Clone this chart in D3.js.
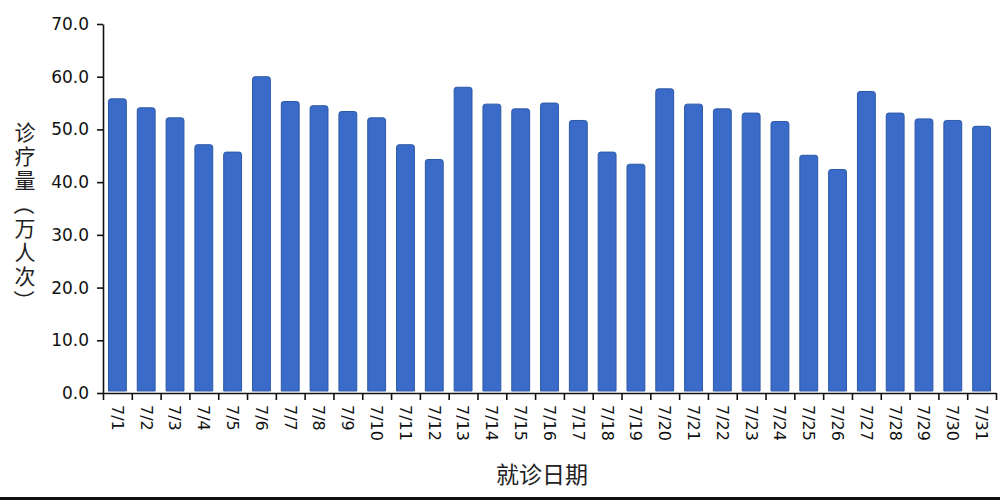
<!DOCTYPE html>
<html>
<head>
<meta charset="utf-8">
<script src="https://cdn.jsdelivr.net/npm/d3@7"></script>
<style>
  body { margin: 0; background: #fff; }
  svg { display: block; }
</style>
</head>
<body>
<div id="app"></div>
<script>
// data
const dates = ["7/1", "7/2", "7/3", "7/4", "7/5", "7/6", "7/7", "7/8", "7/9", "7/10",
    "7/11", "7/12", "7/13", "7/14", "7/15", "7/16", "7/17", "7/18", "7/19", "7/20",
    "7/21", "7/22", "7/23", "7/24", "7/25", "7/26", "7/27", "7/28", "7/29", "7/30", "7/31"];
const visits = [55.8, 54.1, 52.2, 47.1, 45.7, 60.0, 55.3, 54.5, 53.4, 52.2,
    47.1, 44.3, 58.0, 54.8, 53.9, 55.0, 51.7, 45.7, 43.4, 57.7,
    54.8, 53.9, 53.1, 51.5, 45.1, 42.4, 57.2, 53.1, 52.0, 51.7, 50.6];
const yTicks = [0, 10, 20, 30, 40, 50, 60, 70];
const yTitle = "诊疗量（万人次）";
const xTitle = "就诊日期";

const W = 1000, H = 500;
const plotLeft = 103, plotRight = 996, plotTop = 24, plotBottom = 393;

const svg = d3.select("#app")
    .append("svg")
        .attr("width", W)
        .attr("height", H)

// scales
let x = d3.scaleBand()
    .domain(dates)
    .range([plotLeft, plotRight])
    .paddingInner(0.38)
    .paddingOuter(0.19)

let xEdge = d3.scaleLinear()
    .domain([0, dates.length])
    .range([plotLeft, plotRight])

let y = d3.scaleLinear()
    .domain([0, 70])
    .range([plotBottom, plotTop])

// bars
svg.append("g").selectAll("path")
    .data(dates.map((d, i) => ({date: d, value: visits[i]})))
    .enter()
    .append("path")
        .attr("fill", "#3a6bc8")
        .attr("stroke", "#2c58a8")
        .attr("stroke-width", 1)
        .attr("d", function(d) {
            const x0 = x(d.date), x1 = x0 + x.bandwidth();
            const y0 = y(0) - 2, y1 = y(d.value), r = 2.5;
            return `M${x0},${y0}V${y1 + r}Q${x0},${y1} ${x0 + r},${y1}H${x1 - r}Q${x1},${y1} ${x1},${y1 + r}V${y0}Z`;
        })

// y axis
let yAxis = svg.append("g")
    .attr("transform", `translate(${plotLeft},0)`)
    .call(d3.axisLeft(y)
        .tickValues(yTicks)
        .tickFormat(d3.format(".1f"))
        .tickSize(6)
        .tickSizeOuter(0))
yAxis.select(".domain").attr("stroke", "#111").attr("stroke-width", 1.6)
yAxis.selectAll(".tick line").attr("stroke", "#111").attr("stroke-width", 1.6)
yAxis.selectAll(".tick text")
    .attr("x", -14)
    .attr("fill", "#111")
    .style("font-family", "DejaVu Sans")
    .style("font-size", "17px")

// x axis: ticks on the band edges
let xAxis = svg.append("g")
    .attr("transform", `translate(0,${plotBottom})`)
    .call(d3.axisBottom(xEdge)
        .tickValues(d3.range(dates.length + 1))
        .tickFormat("")
        .tickSize(7)
        .tickSizeOuter(0))
xAxis.select(".domain").attr("stroke", "#111").attr("stroke-width", 1.6)
xAxis.selectAll(".tick line").attr("stroke", "#111").attr("stroke-width", 1.6)

// x labels, rotated, at the band centres
let xLabels = svg.append("g")
    .attr("transform", `translate(0,${plotBottom})`)
    .call(d3.axisBottom(x).tickSize(0).tickSizeOuter(0))
xLabels.select(".domain").remove()
xLabels.selectAll(".tick text")
    .attr("transform", "rotate(90)")
    .attr("x", 12)
    .attr("y", 0)
    .attr("dy", "0.35em")
    .attr("text-anchor", "start")
    .attr("fill", "#111")
    .style("font-family", "DejaVu Sans")
    .style("font-size", "16px")

// y title in vertical writing, brackets laid sideways
let yT = svg.append("text")
    .attr("x", 25)
    .attr("y", 122)
    .attr("fill", "#222")
    .style("writing-mode", "vertical-rl")
    .style("text-orientation", "upright")
    .style("letter-spacing", "3px")
    .style("font-family", "Noto Sans CJK SC")
    .style("font-size", "21px")

yT.selectAll("tspan")
    .data(Array.from(yTitle))
    .enter()
    .append("tspan")
        .style("text-orientation", d => (d === "（" || d === "）") ? "sideways" : "upright")
        .text(d => d)

svg.append("text")
    .attr("x", 542)
    .attr("y", 483)
    .attr("text-anchor", "middle")
    .attr("fill", "#222")
    .style("font-family", "Noto Sans CJK SC")
    .style("font-size", "23px")
    .text(xTitle)

// dark strip along the bottom edge of the picture
svg.append("rect")
    .attr("x", 0)
    .attr("y", 497)
    .attr("width", W)
    .attr("height", 3)
    .attr("fill", "#111")
</script>
</body>
</html>
